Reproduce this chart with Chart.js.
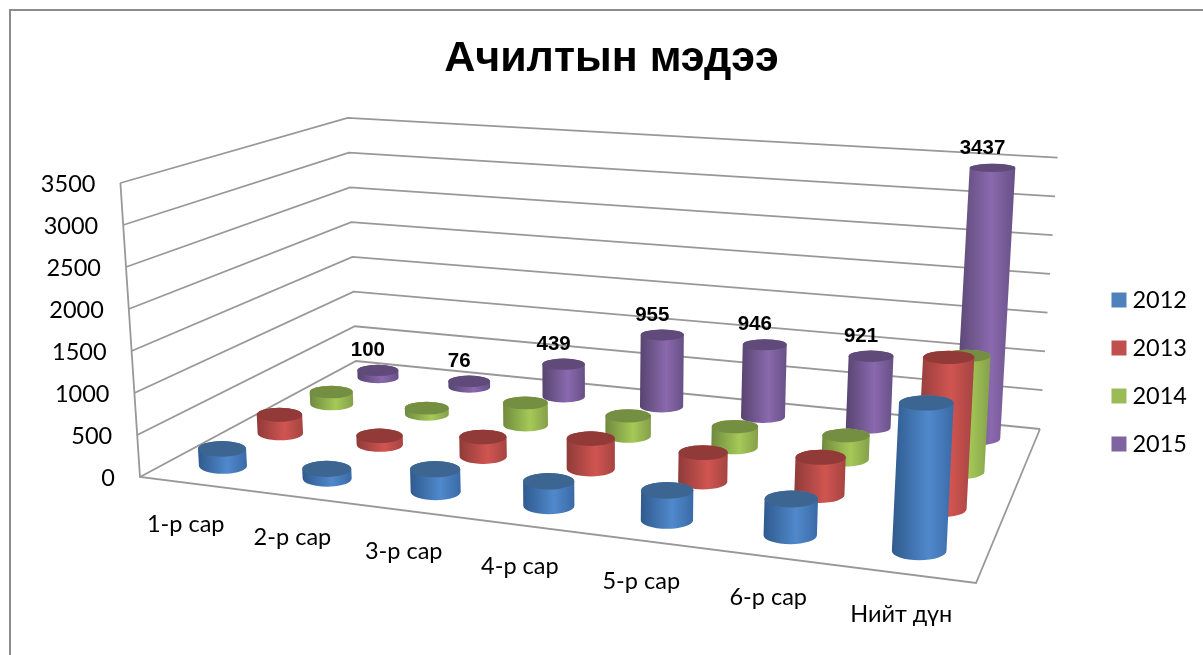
<!DOCTYPE html>
<html><head><meta charset="utf-8">
<script src="https://cdn.jsdelivr.net/npm/chart.js@4"></script>
<style>
html,body{margin:0;padding:0;background:#fff;overflow:hidden;width:1203px;height:655px}
#frame{position:absolute;left:9px;top:9px;width:1300px;height:800px;border-left:2px solid #8c8c8c;border-top:2px solid #8c8c8c}
canvas{display:block}
</style></head><body>
<div id="frame"><div style="width:1203px;height:655px"><canvas id="c" width="1203" height="655" style="width:1203px;height:655px"></canvas></div></div>
<script>
const titleText = 'Ачилтын мэдээ';
const categories = ['1-р сар','2-р сар','3-р сар','4-р сар','5-р сар','6-р сар','Нийт дүн'];
const years = ['2012','2013','2014','2015'];
const values2012 = [205,115,265,280,335,400,1600];
const values2013 = [235,110,240,365,345,440,1735];
const values2014 = [160,80,285,255,260,295,1400];
const values2015 = [100,76,439,955,946,921,3437];
const colors = ['#4f81bd','#c0504d','#9bbb59','#8064a2'];
const shades = [
 {edge:'#2f5a8e',mid:'#5089cc',right:'#3a6aa6',top:'#3d6592'},
 {edge:'#8f3b39',mid:'#d05551',right:'#a54442',top:'#913a38'},
 {edge:'#6f8a3e',mid:'#a5c957',right:'#84a04a',top:'#748f42'},
 {edge:'#574470',mid:'#8a69ae',right:'#675086',top:'#5f4a7a'}
];
const ORIGIN = 11; // canvas origin on the page (inside the frame)
// floor corners of the 3D box, page pixels
const P0=[140,477],P1=[976,583],P2=[1040,429],P3=[356,361],VP=[595,7300];
const dx1=P1[0]-P2[0],dx2=P3[0]-P2[0],sx=P0[0]-P1[0]+P2[0]-P3[0];
const dy1=P1[1]-P2[1],dy2=P3[1]-P2[1],sy=P0[1]-P1[1]+P2[1]-P3[1];
const det=dx1*dy2-dx2*dy1, G=(sx*dy2-dx2*sy)/det, H=(dx1*sy-sx*dy1)/det;
const ax=P1[0]-P0[0]+G*P1[0],bx=P3[0]-P0[0]+H*P3[0],ay=P1[1]-P0[1]+G*P1[1],by=P3[1]-P0[1]+H*P3[1];
function floorPt(u,v){const w=G*u+H*v+1;return {x:(ax*u+bx*v+P0[0])/w-ORIGIN,y:(ay*u+by*v+P0[1])/w-ORIGIN,w};}
function rise(p,px){ // lift a floor point by px (already perspective-scaled) toward the vanishing direction
  const lean=(VP[0]-ORIGIN-p.x)/(VP[1]-ORIGIN-p.y);
  return {x:p.x-lean*px,y:p.y-px};
}
function liftAt(yScale,val,w){return (yScale.getPixelForValue(0)-yScale.getPixelForValue(val))/Math.pow(w,0.9);}

function cylinder(ctx,b,t,rx,ryB,ryT,s){
  const g=ctx.createLinearGradient(Math.min(b.x,t.x)-rx,0,Math.max(b.x,t.x)+rx,0);
  g.addColorStop(0,s.edge);g.addColorStop(0.6,s.mid);g.addColorStop(1,s.right);
  ctx.beginPath();
  ctx.moveTo(t.x-rx,t.y);ctx.lineTo(b.x-rx,b.y);
  ctx.ellipse(b.x,b.y,rx,ryB,0,Math.PI,0,true);
  ctx.lineTo(t.x+rx,t.y);
  ctx.ellipse(t.x,t.y,rx,ryT,0,0,Math.PI,true);
  ctx.closePath();ctx.fillStyle=g;ctx.fill();
  ctx.beginPath();ctx.ellipse(t.x,t.y,rx,ryT,0,0,Math.PI*2);ctx.fillStyle=s.top;ctx.fill();
}

const box3d={
  id:'box3d',
  afterLayout(chart){const l=chart.legend;const d=372-ORIGIN-(l.top+l.bottom)/2;l.top+=d;l.bottom+=d;},
  beforeDatasetsDraw(chart){
    const ctx=chart.ctx,xs=chart.scales.x,ys=chart.scales.y;
    const n=chart.data.datasets.length;
    const uOf=i=>(xs.getPixelForValue(i)-xs.left)/xs.width;
    const vOf=s=>(s+0.5)/n;
    ctx.save();
    // walls
    ctx.strokeStyle='#989898';ctx.lineWidth=1.8;ctx.lineJoin='miter';
    const c0=floorPt(0,0),c1=floorPt(1,0),c2=floorPt(1,1),c3=floorPt(0,1);
    ys.ticks.forEach(t=>{
      const a=rise(c0,liftAt(ys,t.value,c0.w)),b=rise(c3,liftAt(ys,t.value,c3.w)),c=rise(c2,liftAt(ys,t.value,c2.w));
      ctx.beginPath();ctx.moveTo(a.x,a.y);ctx.lineTo(b.x,b.y);ctx.lineTo(c.x,c.y);ctx.stroke();
    });
    const top=rise(c0,liftAt(ys,ys.max,c0.w));
    ctx.beginPath();ctx.moveTo(top.x,top.y);ctx.lineTo(c0.x,c0.y);ctx.lineTo(c1.x,c1.y);ctx.lineTo(c2.x,c2.y);ctx.stroke();
    // y tick labels along the slanted edge
    ctx.fillStyle='#000';ctx.font='23.5px Lato';ctx.textAlign='right';ctx.textBaseline='middle';
    ys.ticks.forEach(t=>{
      const a=rise(c0,liftAt(ys,t.value,c0.w));
      ctx.fillText(String(t.value),a.x-25,a.y+1);
    });
    // category labels under the front edge
    ctx.textAlign='center';ctx.font='23.5px Lato';
    categories.forEach((lab,i)=>{
      const p=floorPt(uOf(i),0);
      ctx.fillText(lab,p.x-6,p.y+40.5);
    });
    // cylinders, back row first
    for(let s=n-1;s>=0;s--){
      const data=chart.data.datasets[s].data;
      data.forEach((val,i)=>{
        const v=vOf(s),p=floorPt(uOf(i),v);
        const px=liftAt(ys,val,p.w),t=rise(p,px);
        const rx=24.5/p.w,k0=0.34-0.07*v;
        cylinder(ctx,p,t,rx,rx*k0,rx*Math.max(0.12,k0-0.1*px/275),shades[s]);
      });
    }
    // value labels for the last series
    ctx.fillStyle='#000';ctx.font='bold 20.5px "Liberation Sans"';ctx.textAlign='center';
    const last=n-1;
    chart.data.datasets[last].data.forEach((val,i)=>{
      const p=floorPt(uOf(i),vOf(last)),t=rise(p,liftAt(ys,val,p.w));
      ctx.fillText(String(val),t.x-10,t.y-20);
    });
    ctx.restore();
    return false;
  }
};

new Chart(document.getElementById('c'),{
  type:'bar',
  data:{labels:categories,datasets:[values2012,values2013,values2014,values2015].map((d,i)=>({label:years[i],data:d,backgroundColor:colors[i],borderWidth:0}))},
  options:{
    responsive:false,animation:false,
    layout:{padding:{bottom:189,right:17,left:15}},
    plugins:{
      title:{display:true,text:titleText,color:'#000',font:{family:'"Liberation Sans"',size:43,weight:'bold',lineHeight:1.2},padding:{top:22,bottom:98.4}},
      legend:{position:'right',labels:{font:{family:'Lato',size:23.5},color:'#000',padding:24.5,usePointStyle:true,pointStyle:'rect',boxWidth:3.5,boxHeight:15}},
      tooltip:{enabled:false}
    },
    scales:{
      x:{display:false,offset:true},
      y:{min:0,max:3500,ticks:{stepSize:500,display:false},grid:{display:false},border:{display:false}}
    }
  },
  plugins:[box3d]
});
</script>
</body></html>
